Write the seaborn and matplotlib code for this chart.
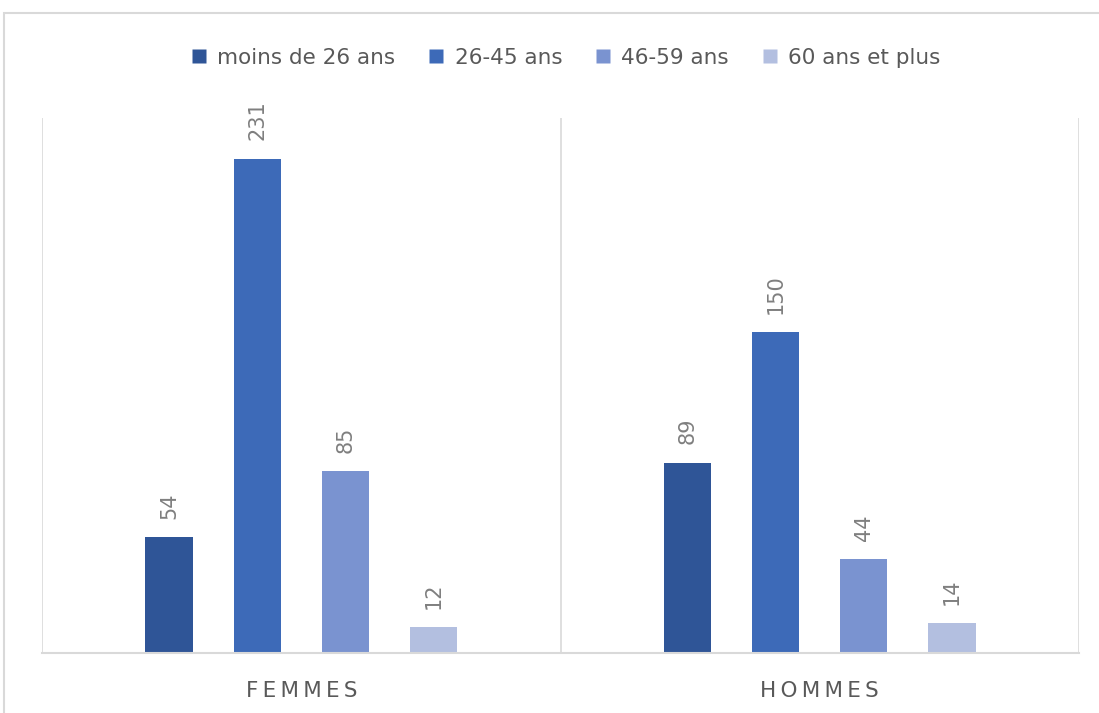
import pandas as pd
import matplotlib.pyplot as plt
import seaborn as sns
from matplotlib.patches import Rectangle
from matplotlib.lines import Line2D

# données
sexes = ["FEMMES", "HOMMES"]
tranches = ["moins de 26 ans", "26-45 ans", "46-59 ans", "60 ans et plus"]
femmes = [54, 231, 85, 12]
hommes = [89, 150, 44, 14]
couleurs = ["#2F5597", "#3D6AB8", "#7A93D0", "#B3BFE0"]

df = pd.DataFrame({
    "sexe": [s for s, vals in zip(sexes, [femmes, hommes]) for _ in vals],
    "tranche": tranches * 2,
    "n": femmes + hommes,
})

sns.set_theme(style="white")
plt.rcParams["font.family"] = ["DejaVu Sans"]

fig = plt.figure(figsize=(10.99, 7.13), dpi=100)
ax = fig.add_axes([42 / 1099, 1 - 653 / 713, (1079 - 42) / 1099, (653 - 118) / 713])

sns.barplot(data=df, x="sexe", y="n", hue="tranche", hue_order=tranches,
            palette=couleurs, width=0.68, gap=0.466, ax=ax, legend=False,
            saturation=1, edgecolor="none")

ax.set_ylim(0, 250)
ax.set_xlim(-0.5, 1.5)
ax.set_yticks([])
ax.set_xlabel("")
ax.set_ylabel("")
for s in ["left", "right", "top"]:
    ax.spines[s].set_visible(False)
ax.spines["bottom"].set_color("#D9D9D9")
ax.spines["bottom"].set_linewidth(1.5)
for xv in [-0.5, 0.5, 1.5]:
    ax.axvline(xv, color="#D9D9D9", lw=1.2, zorder=0)

ax.set_xticks(range(len(sexes)))
ax.set_xticklabels(["\u2009".join(s) for s in sexes], color="#595959", fontsize=15.5)
ax.tick_params(axis="x", length=0, pad=20)

for cont in ax.containers:
    for bar in cont:
        h = bar.get_height()
        ax.text(bar.get_x() + bar.get_width() / 2, h + 8.5, f"{h:.0f}",
                rotation=90, ha="center", va="bottom", color="#7F7F7F", fontsize=15)

handles = [Line2D([], [], marker="s", ls="none", markersize=10,
                  markerfacecolor=c, markeredgecolor="none") for c in couleurs]
fig.legend(handles, tranches, loc="center", bbox_to_anchor=(0.515, 1 - 58 / 713),
           ncol=4, frameon=False, fontsize=15.5, labelcolor="#595959",
           handlelength=0.7, handletextpad=0.5, columnspacing=1.55)

fig.add_artist(Rectangle((4 / 1099, -0.02), 1.1, 1 - 13 / 713 + 0.02,
                         transform=fig.transFigure, fill=False,
                         edgecolor="#D9D9D9", lw=1.5))

fig.savefig("out.png", dpi=100)
